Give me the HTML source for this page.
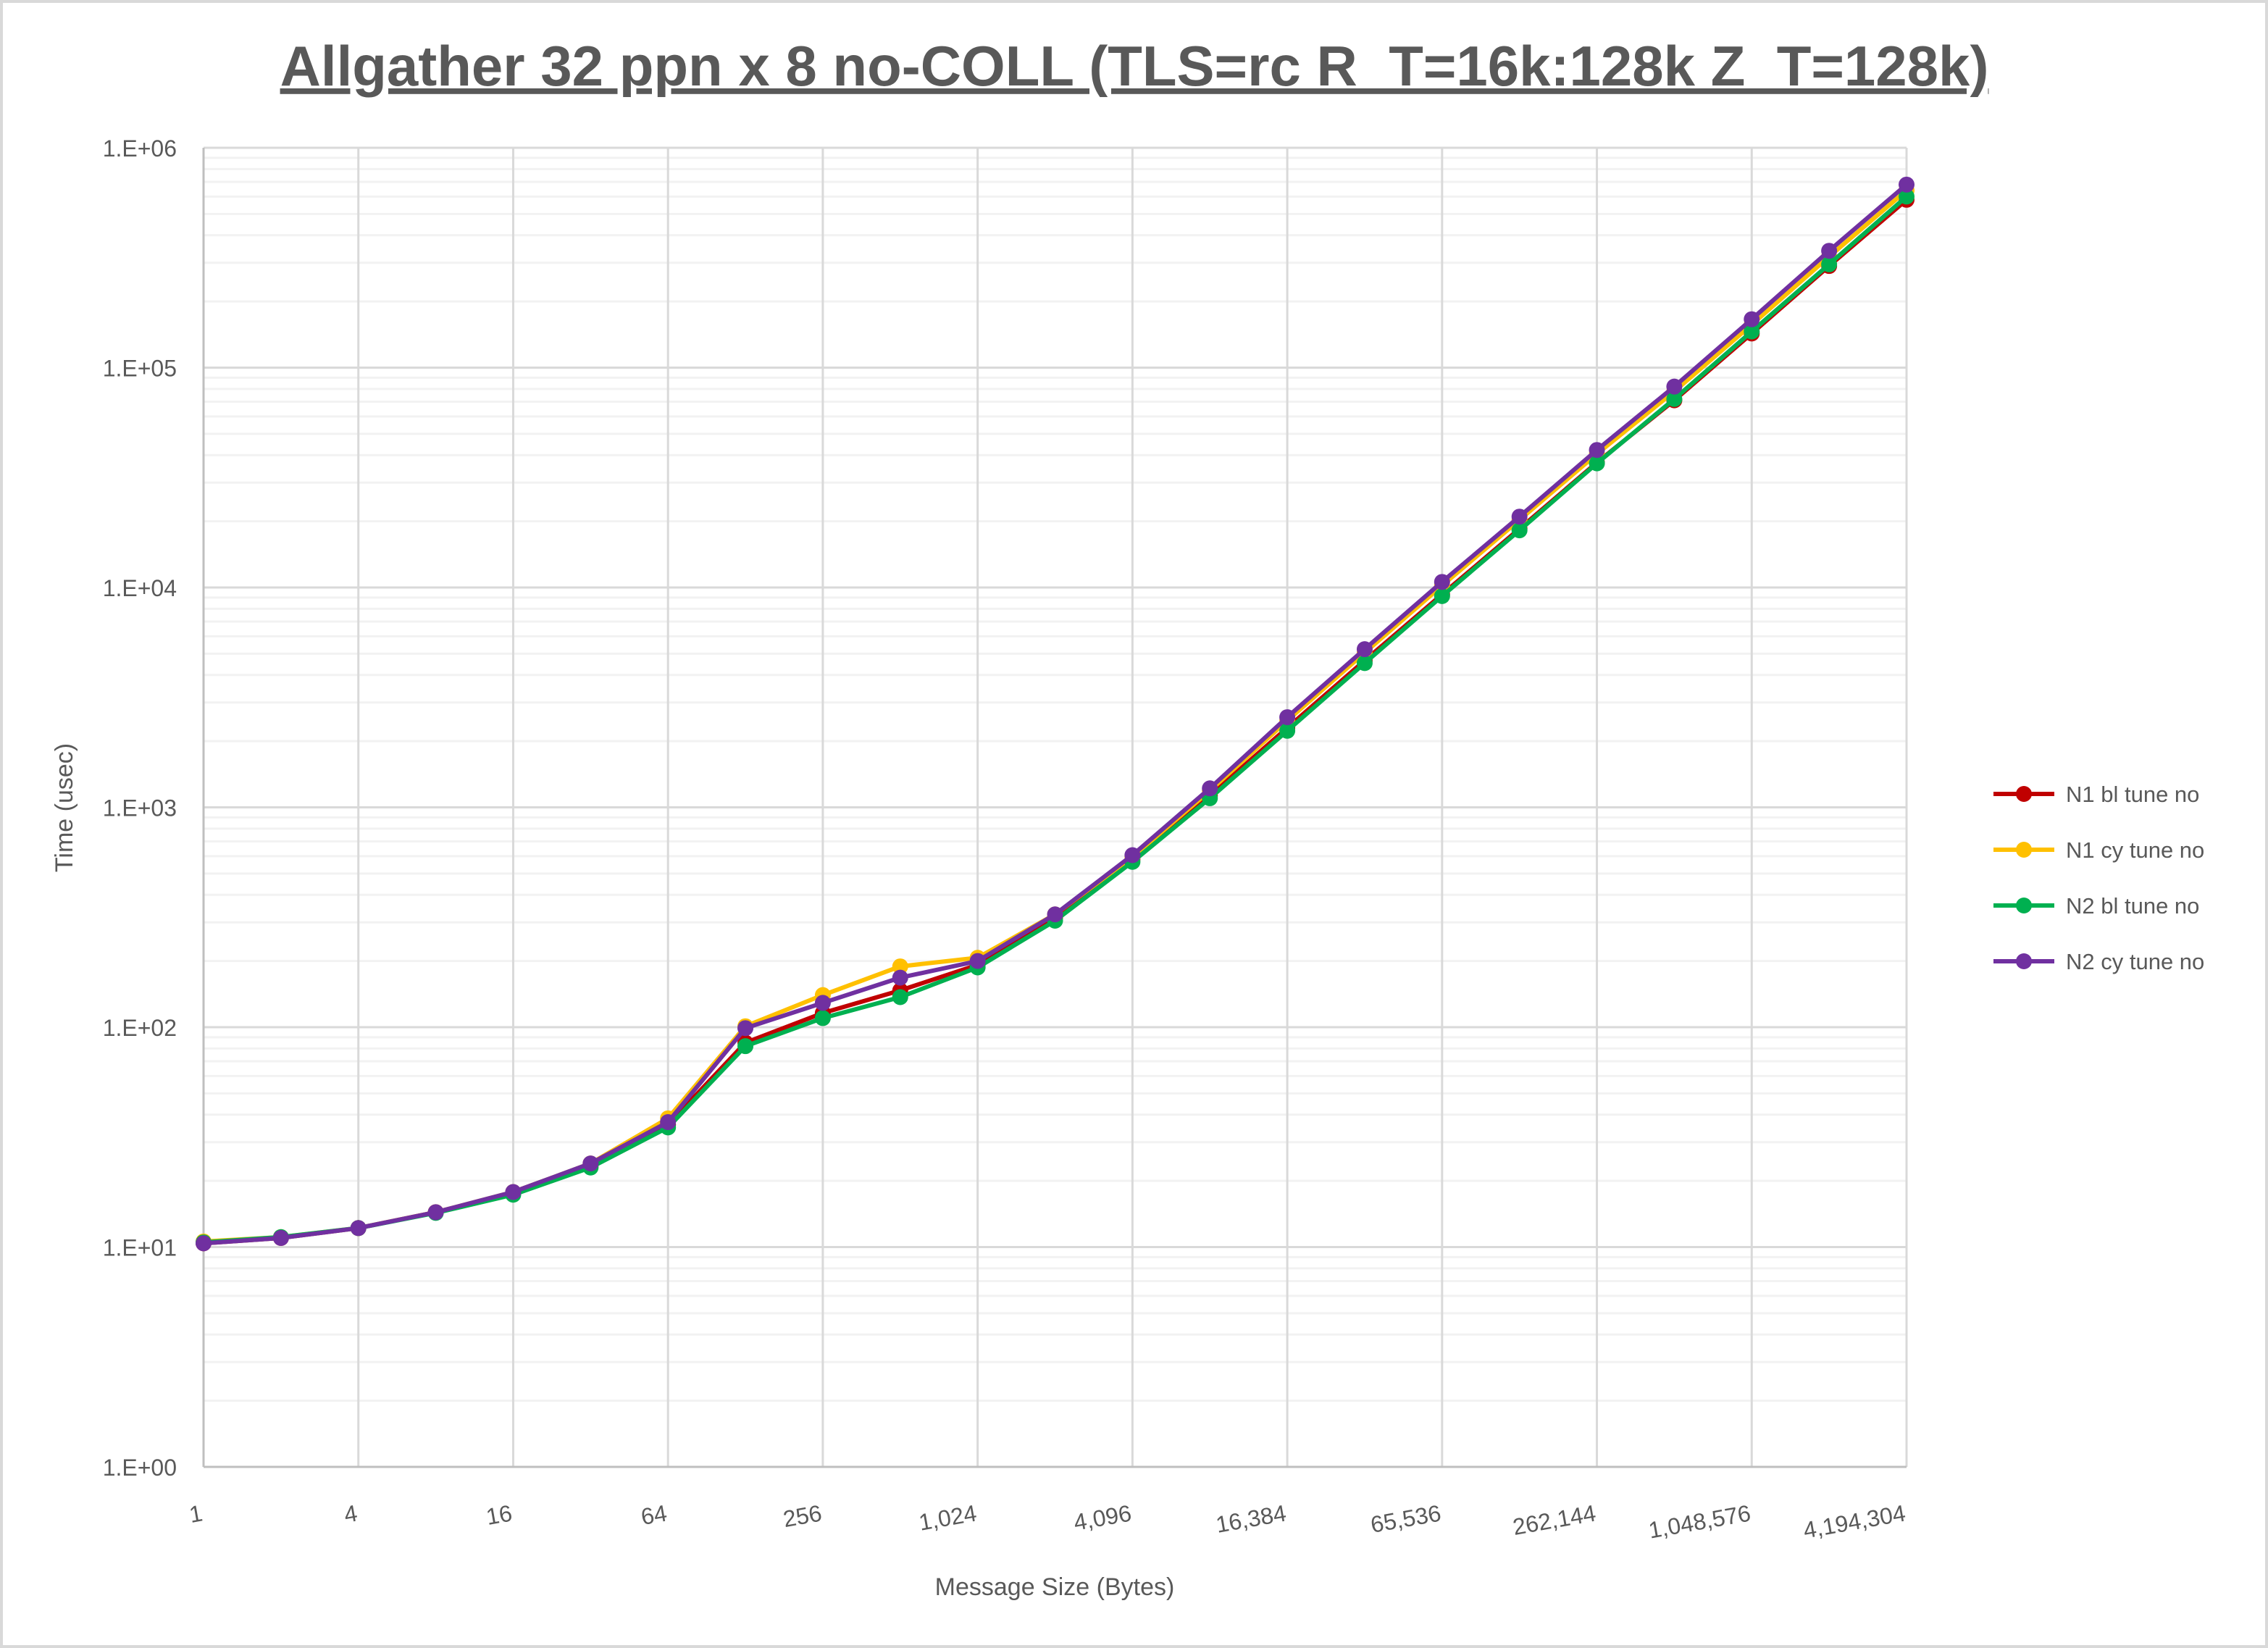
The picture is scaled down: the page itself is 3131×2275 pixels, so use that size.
<!DOCTYPE html>
<html><head><meta charset="utf-8">
<style>
html,body{margin:0;padding:0;background:#fff;}
svg{display:block;font-family:"Liberation Sans",sans-serif;}
</style></head>
<body>
<svg id="chart" width="3131" height="2275" viewBox="0 0 3131 2275">
<rect x="2" y="2" width="3127" height="2271" fill="#fff" stroke="#d9d9d9" stroke-width="4"/>
<text x="1566" y="118" text-anchor="middle" font-size="78" font-weight="bold" fill="#595959" text-decoration="underline">Allgather 32 ppn x 8 no-COLL (TLS=rc R_T=16k:128k Z_T=128k)</text>
<g id="grid"></g>
<g id="axes"></g>
<g id="series"></g>
<g id="legend"></g>
<text transform="translate(100,1115) rotate(-90)" text-anchor="middle" font-size="34" fill="#595959">Time (usec)</text>
<text x="1456" y="2202" text-anchor="middle" font-size="34" fill="#595959">Message Size (Bytes)</text>
</svg>
<script>
const categories=[1,2,4,8,16,32,64,128,256,512,1024,2048,4096,8192,16384,32768,65536,131072,262144,524288,1048576,2097152,4194304];
const xTickLabels=["1","4","16","64","256","1,024","4,096","16,384","65,536","262,144","1,048,576","4,194,304"];
const yTickLabels=["1.E+00","1.E+01","1.E+02","1.E+03","1.E+04","1.E+05","1.E+06"];
const seriesNames=["N1 bl tune no","N1 cy tune no","N2 bl tune no","N2 cy tune no"];
const seriesColors=["#c00000","#ffc000","#00b050","#7030a0"];
const n1bl=[10.4,11.0,12.2,14.4,17.6,23.5,36,85,116,147,192,315,580,1130,2300,4650,9300,18500,37000,71000,143000,290000,580000];
const n1cy=[10.6,11.1,12.2,14.4,17.8,24,38.5,101,140,189,207,326,595,1190,2480,5050,10200,20300,40500,78000,157000,320000,640000];
const n2bl=[10.5,11.1,12.2,14.3,17.3,23,35,82,110,137,187,305,565,1100,2230,4530,9140,18200,36700,72000,146000,295000,600000];
const n2cy=[10.4,11.0,12.2,14.4,17.8,24,37,99,129,168,200,326,606,1220,2570,5240,10600,21000,42200,82000,166000,340000,680000];
const seriesData=[n1bl,n1cy,n2bl,n2cy];

const NS="http://www.w3.org/2000/svg";
const X0=281,X1=2632,Y0=2025,Y1=204;
function xPos(i){return X0+(X1-X0)*i/(categories.length-1);}
function yPos(v){return Y0-(Y0-Y1)*Math.log10(v)/6;}
function mk(tag,attrs,parent){const e=document.createElementNS(NS,tag);for(const k in attrs)e.setAttribute(k,attrs[k]);parent.appendChild(e);return e;}
const grid=document.getElementById('grid'),axes=document.getElementById('axes'),ser=document.getElementById('series'),leg=document.getElementById('legend');
// minor gridlines
for(let d=0;d<6;d++){for(let m=2;m<=9;m++){const y=yPos(m*Math.pow(10,d));
const l=mk('line',{x1:X0,x2:X1,y1:y,y2:y,stroke:'#f2f2f2','stroke-width':3},grid);

}}
// major gridlines + y labels
yTickLabels.forEach((t,d)=>{const y=yPos(Math.pow(10,d));
if(d>0){const l=mk('line',{x1:X0,x2:X1,y1:y,y2:y,stroke:'#d9d9d9','stroke-width':3},grid);

}
const tx=mk('text',{x:244,y:y+12,'text-anchor':'end','font-size':32,fill:'#595959'},axes);
tx.textContent=t;

});
// vertical gridlines + x labels
xTickLabels.forEach((t,k)=>{const x=xPos(k*2);
if(k>0){const l=mk('line',{x1:x,x2:x,y1:Y1,y2:Y0,stroke:'#d9d9d9','stroke-width':3},grid);

}
const tx=mk('text',{x:x,y:Y0+74,'text-anchor':'end','font-size':32,fill:'#595959',transform:`rotate(-10 ${x} ${Y0+74})`},axes);
tx.textContent=t;

});
const ax1=mk('line',{x1:X0,x2:X0,y1:Y1,y2:Y0,stroke:'#bfbfbf','stroke-width':3},axes);


const ax2=mk('line',{x1:X0,x2:X1,y1:Y0,y2:Y0,stroke:'#bfbfbf','stroke-width':3},axes);


// series
seriesData.forEach((data,s)=>{const g=mk('g',{},ser);


const pts=data.map((v,i)=>xPos(i)+','+yPos(v)).join(' ');
const pl=mk('polyline',{points:pts,fill:'none',stroke:seriesColors[s],'stroke-width':6,'stroke-linejoin':'round'},g);


data.forEach((v,i)=>{const c=mk('circle',{cx:xPos(i),cy:yPos(v),r:11,fill:seriesColors[s]},g);

});});
// legend
seriesNames.forEach((nm,s)=>{const y=1096+s*77;const g=mk('g',{},leg);


mk('line',{x1:2752,x2:2836,y1:y,y2:y,stroke:seriesColors[s],'stroke-width':6},g);
mk('circle',{cx:2794,cy:y,r:11,fill:seriesColors[s]},g);
const tx=mk('text',{x:2852,y:y+11,'font-size':31,fill:'#595959'},g);
tx.textContent=nm;});
</script>
</body></html>
